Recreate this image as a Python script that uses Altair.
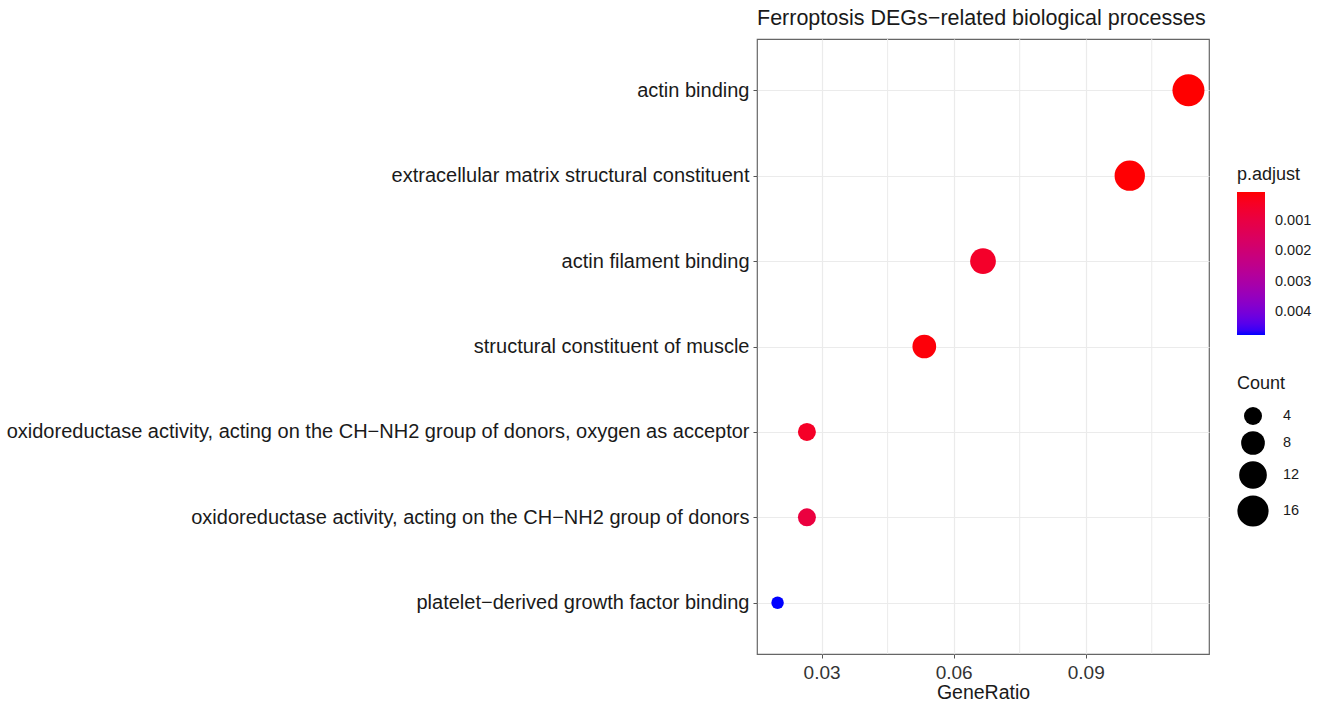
import altair as alt
import pandas as pd

terms = [
    "actin binding",
    "extracellular matrix structural constituent",
    "actin filament binding",
    "structural constituent of muscle",
    "oxidoreductase activity, acting on the CH\u2212NH2 group of donors, oxygen as acceptor",
    "oxidoreductase activity, acting on the CH\u2212NH2 group of donors",
    "platelet\u2212derived growth factor binding",
]
gene_ratio = [17 / 150, 15 / 150, 10 / 150, 8 / 150, 4 / 150, 4 / 150, 3 / 150]
counts = [17, 15, 10, 8, 4, 4, 3]
p_adjust = [0.00003, 0.00005, 0.0005, 0.0001, 0.00045, 0.0009, 0.00477]

minor_breaks = [0.045, 0.075, 0.105]
major_breaks = [0.03, 0.06, 0.09]
color_legend_values = [0.001, 0.002, 0.003, 0.004]
size_legend_values = [4, 8, 12, 16]

df = pd.DataFrame({"Description": terms, "GeneRatio": gene_ratio,
                   "Count": counts, "padj": p_adjust})
minor_df = pd.DataFrame({"m": minor_breaks})

FONT = "Liberation Sans"
TXT = "#1a1a1a"
x_scale = alt.Scale(domain=[0.01533, 0.118], nice=False, zero=False)

grid_minor = alt.Chart(minor_df).mark_rule(color="#ebebeb", strokeWidth=1).encode(
    x=alt.X("m:Q", scale=x_scale, title="GeneRatio")
)

points = alt.Chart(df).mark_circle(opacity=1).encode(
    x=alt.X("GeneRatio:Q", scale=x_scale, title="GeneRatio",
            axis=alt.Axis(values=major_breaks, format=".2f", grid=True,
                          gridColor="#ebebeb", gridWidth=1.2,
                          tickSize=4, tickColor="#555555", domain=False,
                          labelFontSize=19, labelColor="#333333", labelPadding=5,
                          titleFontSize=19.5, titleFontWeight="normal",
                          titleColor=TXT, titlePadding=1, labelFont=FONT,
                          titleFont=FONT)),
    y=alt.Y("Description:N", sort=terms, title=None,
            scale=alt.Scale(type="point", padding=0.6),
            axis=alt.Axis(grid=True, gridColor="#ebebeb", gridWidth=1.2,
                          tickSize=4, tickColor="#555555", domain=False,
                          labelFontSize=20, labelColor=TXT, labelPadding=4,
                          labelLimit=1000, labelFont=FONT)),
    color=alt.Color("padj:Q",
                    scale=alt.Scale(domain=[0.00477, 0.00003], range=["blue", "red"],
                                    interpolate="lab"),
                    legend=alt.Legend(title="p.adjust", orient="none", legendX=480,
                                      legendY=127, direction="vertical",
                                      gradientLength=143, gradientThickness=28,
                                      gradientStrokeWidth=0,
                                      values=color_legend_values,
                                      format=".3f", labelFontSize=14.5,
                                      labelOffset=10, labelColor=TXT,
                                      titleFontSize=18, titleFontWeight="normal",
                                      titlePadding=8, titleColor=TXT,
                                      labelFont=FONT, titleFont=FONT)),
    size=alt.Size("Count:Q",
                  scale=alt.Scale(domain=[3, 4, 8, 17], range=[156, 324, 562, 1024]),
                  legend=alt.Legend(title="Count", orient="none", legendX=480,
                                    legendY=336, values=size_legend_values,
                                    symbolFillColor="black", symbolStrokeWidth=0,
                                    symbolOpacity=1, labelFontSize=14.5,
                                    labelOffset=14, labelColor=TXT,
                                    rowPadding=6,
                                    titleFontSize=18, titleFontWeight="normal",
                                    titlePadding=14, titleColor=TXT,
                                    labelFont=FONT, titleFont=FONT)),
)

chart = alt.layer(grid_minor, points).properties(
    width=452, height=615,
    title=alt.TitleParams("Ferroptosis DEGs\u2212related biological processes",
                          anchor="start", frame="group", fontSize=21.5,
                          fontWeight="normal", font=FONT, color=TXT, offset=9),
    autosize=alt.AutoSizeParams(type="none"),
    padding={"left": 757, "top": 39, "right": 116, "bottom": 52},
).configure(background="white").configure_view(stroke="#666666", strokeWidth=1.2)

chart.save("out.html", embed_options={"renderer": "svg", "actions": False})
